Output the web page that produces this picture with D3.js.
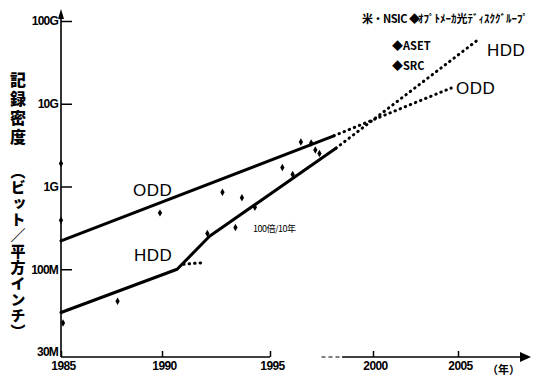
<!DOCTYPE html>
<html>
<head>
<meta charset="utf-8">
<script src="https://cdn.jsdelivr.net/npm/d3@7"></script>
<style>
  html, body { margin: 0; padding: 0; background: #fff; }
  svg { display: block; }
  text { fill: #000; }
</style>
</head>
<body>
<div id="chart"></div>
<script>
// tick values and labels
const yearTicks = [1985, 1990, 1995, 2000, 2005];
const yearTickX = [61, 162, 270, 373, 458]; // hand-drawn, uneven spacing
const densityTicks = [1e7, 1e8, 1e9, 1e10, 1e11];
const densityLabels = ['30M', '100M', '1G', '10G', '100G'];

// trend lines (bits per square inch)
const oddYears = [1985, 1998.1];
const oddValues = [2.2e8, 4.1e9];
const oddProjYears = [1998.1, 2004.6];
const oddProjValues = [4.1e9, 1.55e10];

const hddYears = [1985, 1990.7, 1992.2, 1998.2];
const hddValues = [3.0e7, 1.0e8, 2.5e8, 2.9e9];
const hddProjYears = [1998.2, 2006.3];
const hddProjValues = [2.9e9, 6.2e10];
const hddSideYears = [1991.0, 1991.9];
const hddSideValues = [1.15e8, 1.2e8];

// product data points
const oddPtYears = [1985, 1985, 1989.9, 1992.8, 1993.7, 1995.6, 1996.5, 1997.0, 1997.2];
const oddPtValues = [1.9e9, 3.9e8, 4.8e8, 8.5e8, 7.3e8, 1.7e9, 3.45e9, 3.36e9, 2.76e9];
const hddPtYears = [1985.1, 1987.8, 1992.1, 1993.4, 1994.3, 1996.1, 1997.4];
const hddPtValues = [2.24e7, 4.1e7, 2.7e8, 3.2e8, 5.6e8, 1.4e9, 2.5e9];

const width = 534, height = 377;

const svg = d3.select('#chart').append('svg')
  .attr('width', width)
  .attr('height', height);

const x = d3.scaleLinear().domain(yearTicks).range(yearTickX);
const y = d3.scaleLog().domain([1e7, 1e11]).range([352, 21]);
const axisY = 357;

const g = svg.append('g');

// x axis
const xAxis = g.append('g')
  .attr('transform', `translate(0,${axisY})`)
  .call(d3.axisBottom(x).tickValues(yearTicks).tickSize(-6).tickPadding(4).tickFormat(d3.format('d')));
xAxis.select('.domain').remove();
xAxis.selectAll('line').attr('stroke', '#000').attr('stroke-width', 1.5);
xAxis.selectAll('text')
  .attr('font-family', 'Liberation Sans, Arial, sans-serif')
  .attr('font-weight', 'bold')
  .attr('font-size', 12)
  .attr('letter-spacing', -0.6)
  .attr('dx', 2);

g.append('line')
  .attr('x1', x(1985)).attr('x2', x(1995)).attr('y1', axisY).attr('y2', axisY)
  .attr('stroke', '#000').attr('stroke-width', 1.5);
g.append('line')
  .attr('x1', x(1997.5)).attr('x2', x(1998.5)).attr('y1', axisY).attr('y2', axisY)
  .attr('stroke', '#000').attr('stroke-width', 1.2).attr('stroke-dasharray', '4,3');
g.append('line')
  .attr('x1', x(1998.5)).attr('x2', 522).attr('y1', axisY).attr('y2', axisY)
  .attr('stroke', '#000').attr('stroke-width', 1.5);
g.append('path')
  .attr('d', `M531,${axisY} L520,${axisY - 5} L520,${axisY + 5} Z`)
  .attr('fill', '#000');

svg.append('text')
  .attr('x', 487).attr('y', 374)
  .attr('font-family', 'Noto Sans CJK JP, sans-serif')
  .attr('font-weight', 'bold')
  .attr('font-size', 11)
  .text('（年）');

// y axis
const yAxis = g.append('g')
  .attr('transform', `translate(${x(1985)},0)`)
  .call(d3.axisLeft(y).tickValues(densityTicks).tickSize(-11).tickPadding(3)
    .tickFormat((d, i) => densityLabels[i]));
yAxis.select('.domain').remove();
yAxis.selectAll('line').attr('stroke', '#000').attr('stroke-width', 1.5);
yAxis.selectAll('.tick').filter(d => d === 1e7).select('line').remove();
yAxis.selectAll('text')
  .attr('font-family', 'Liberation Sans, Arial, sans-serif')
  .attr('font-weight', 'bold')
  .attr('font-size', 12)
  .attr('letter-spacing', -0.8);

g.append('line')
  .attr('x1', x(1985)).attr('x2', x(1985)).attr('y1', axisY).attr('y2', 16)
  .attr('stroke', '#000').attr('stroke-width', 1.6);
g.append('path')
  .attr('d', `M${x(1985)},9 L${x(1985) - 3},19 L${x(1985) + 3},19 Z`)
  .attr('fill', '#000');

// y axis title, vertical
svg.append('text')
  .attr('x', 18).attr('y', 72)
  .attr('writing-mode', 'vertical-rl')
  .attr('font-family', 'Noto Sans CJK JP, sans-serif')
  .attr('font-weight', 900)
  .attr('font-size', 16)
  .attr('letter-spacing', 3)
  .text('記録密度');
svg.append('text')
  .attr('x', 18).attr('y', 164)
  .attr('writing-mode', 'vertical-rl')
  .attr('font-family', 'Noto Sans CJK JP, sans-serif')
  .attr('font-weight', 900)
  .attr('font-size', 15)
  .attr('letter-spacing', 1)
  .text('（ビット／平方インチ）');

// lines
const line = d3.line().x(d => x(d[0])).y(d => y(d[1]));

function drawLine(years, values, dotted) {
  g.append('path')
    .datum(years.map((yr, i) => [yr, values[i]]))
    .attr('d', line)
    .attr('fill', 'none')
    .attr('stroke', '#000')
    .attr('stroke-width', 3)
    .attr('stroke-linecap', 'round')
    .attr('stroke-linejoin', 'round')
    .attr('stroke-dasharray', dotted ? '0.5,5' : null);
}

drawLine(oddYears, oddValues, false);
drawLine(oddProjYears, oddProjValues, true);
drawLine(hddYears, hddValues, false);
drawLine(hddProjYears, hddProjValues, true);
drawLine(hddSideYears, hddSideValues, true);

// data points
const diamond = d3.symbol().type(d3.symbolDiamond).size(16);
function drawPoints(years, values) {
  g.selectAll(null)
    .data(years.map((yr, i) => [yr, values[i]]))
    .enter()
    .append('path')
    .attr('d', diamond)
    .attr('transform', d => `translate(${x(d[0])},${y(d[1])})`)
    .attr('fill', '#000');
}
drawPoints(oddPtYears, oddPtValues);
drawPoints(hddPtYears, hddPtValues);

// labels
const labelFont = 'Liberation Sans, Arial, sans-serif';
function label(txt, xx, yy, size) {
  svg.append('text')
    .attr('x', xx).attr('y', yy)
    .attr('font-family', labelFont)
    .attr('font-size', size)
    .attr('letter-spacing', 0.5)
    .text(txt);
}
label('ODD', 133, 196, 17);
label('HDD', 134, 261, 17);
label('HDD', 487, 56, 17);
label('ODD', 456, 94, 17);

svg.append('text')
  .attr('x', 253).attr('y', 232)
  .attr('font-family', 'Noto Sans CJK JP, sans-serif')
  .attr('font-size', 9)
  .attr('letter-spacing', -0.5)
  .text('100倍/10年');

// legend of projections
const legendFont = 'Noto Sans CJK JP, sans-serif';
svg.append('text')
  .attr('x', 362).attr('y', 23)
  .attr('font-family', legendFont)
  .attr('font-weight', 'bold')
  .attr('font-size', 11)
  .attr('letter-spacing', -0.5)
  .text('米・NSIC ◆');
svg.append('text')
  .attr('x', 418).attr('y', 23)
  .attr('font-family', legendFont)
  .attr('font-weight', 'bold')
  .attr('font-size', 11)
  .text('ｵﾌﾟﾄﾒｰｶ光ﾃﾞｨｽｸｸﾞﾙｰﾌﾟ');
svg.append('text')
  .attr('x', 392).attr('y', 50)
  .attr('font-family', legendFont)
  .attr('font-weight', 'bold')
  .attr('font-size', 11)
  .text('◆ASET');
svg.append('text')
  .attr('x', 392).attr('y', 70)
  .attr('font-family', legendFont)
  .attr('font-weight', 'bold')
  .attr('font-size', 11)
  .text('◆SRC');
</script>
</body>
</html>
